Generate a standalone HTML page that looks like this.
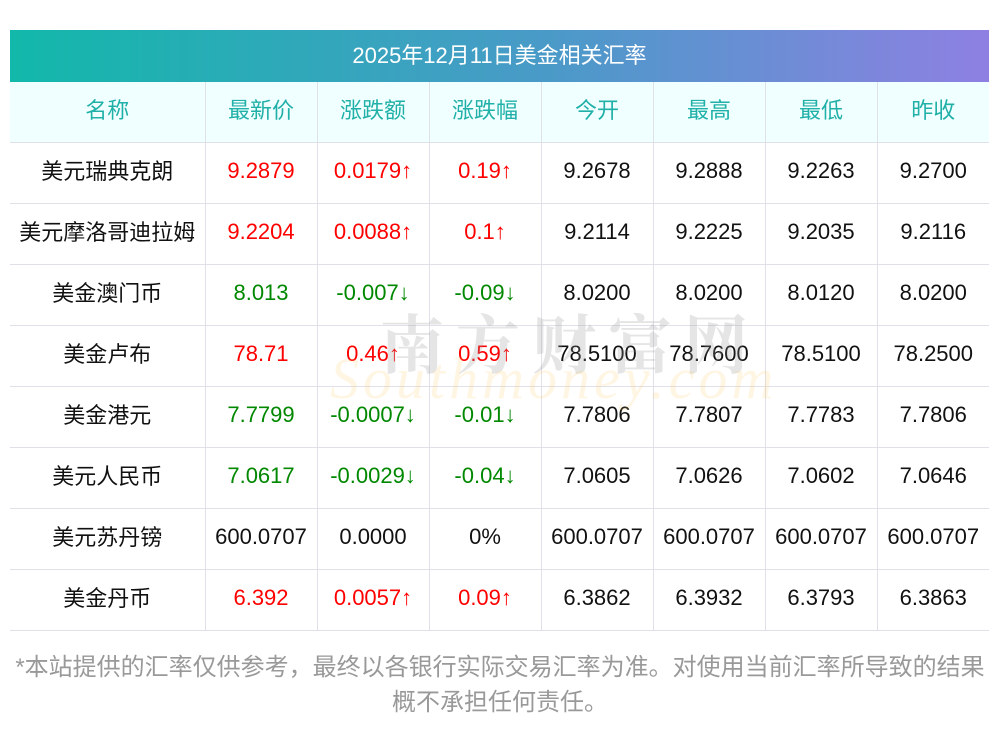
<!DOCTYPE html>
<html><head><meta charset="utf-8"><style>
body{margin:0;width:1000px;height:733px;background:#fff;font-family:"Liberation Sans","Noto Sans CJK SC",sans-serif;position:relative;overflow:hidden}
.title{position:absolute;left:10px;top:30px;width:979px;height:52px;background:linear-gradient(90deg,#12b8aa,#4a9ac8 55%,#8e80e2);color:#fff;font-size:22px;text-align:center;line-height:52px}
table{position:absolute;left:10px;top:82px;width:979px;border-collapse:collapse;table-layout:fixed}
td{height:61px;border-bottom:1px solid #e0e0e8;border-right:1px solid #e0e0e8;text-align:center;font-size:22px;color:#111;padding:0 0 3px 0;box-sizing:border-box;white-space:nowrap}
td:last-child{border-right:none}
td span{position:relative;top:-1px}
tr.h td{background:#f0ffff;color:#20b0a8;font-size:22px;height:60px}
.r{color:#f00}.g{color:#080}
.wm1{position:absolute;left:380px;top:295px;font-size:64px;color:rgba(150,150,150,.25);letter-spacing:12px;font-weight:bold;font-family:"Noto Serif CJK SC",serif}
.wm2{position:absolute;left:330px;top:345px;font-size:58px;color:rgba(255,200,100,.18);font-style:italic;font-family:"Liberation Serif",serif;letter-spacing:4px}
.foot{position:absolute;left:0;top:650px;width:1000px;text-align:center;color:#999;font-size:24px;line-height:35px}
</style></head><body>
<div class="title">2025年12月11日美金相关汇率</div>
<table>
<colgroup><col style="width:195px"><col style="width:112px"><col style="width:112px"><col style="width:112px"><col style="width:112px"><col style="width:112px"><col style="width:112px"><col style="width:112px"></colgroup>
<tr class="h"><td><span>名称</span></td><td><span>最新价</span></td><td><span>涨跌额</span></td><td><span>涨跌幅</span></td><td><span>今开</span></td><td><span>最高</span></td><td><span>最低</span></td><td><span>昨收</span></td></tr>
<tr><td><span>美元瑞典克朗</span></td><td class="r">9.2879</td><td class="r">0.0179↑</td><td class="r">0.19↑</td><td>9.2678</td><td>9.2888</td><td>9.2263</td><td>9.2700</td></tr>
<tr><td><span>美元摩洛哥迪拉姆</span></td><td class="r">9.2204</td><td class="r">0.0088↑</td><td class="r">0.1↑</td><td>9.2114</td><td>9.2225</td><td>9.2035</td><td>9.2116</td></tr>
<tr><td><span>美金澳门币</span></td><td class="g">8.013</td><td class="g">-0.007↓</td><td class="g">-0.09↓</td><td>8.0200</td><td>8.0200</td><td>8.0120</td><td>8.0200</td></tr>
<tr><td><span>美金卢布</span></td><td class="r">78.71</td><td class="r">0.46↑</td><td class="r">0.59↑</td><td>78.5100</td><td>78.7600</td><td>78.5100</td><td>78.2500</td></tr>
<tr><td><span>美金港元</span></td><td class="g">7.7799</td><td class="g">-0.0007↓</td><td class="g">-0.01↓</td><td>7.7806</td><td>7.7807</td><td>7.7783</td><td>7.7806</td></tr>
<tr><td><span>美元人民币</span></td><td class="g">7.0617</td><td class="g">-0.0029↓</td><td class="g">-0.04↓</td><td>7.0605</td><td>7.0626</td><td>7.0602</td><td>7.0646</td></tr>
<tr><td><span>美元苏丹镑</span></td><td>600.0707</td><td>0.0000</td><td>0%</td><td>600.0707</td><td>600.0707</td><td>600.0707</td><td>600.0707</td></tr>
<tr><td><span>美金丹币</span></td><td class="r">6.392</td><td class="r">0.0057↑</td><td class="r">0.09↑</td><td>6.3862</td><td>6.3932</td><td>6.3793</td><td>6.3863</td></tr>
</table>
<div class="wm1">南方财富网</div>
<div class="wm2">Southmoney.com</div>
<div class="foot">*本站提供的汇率仅供参考，最终以各银行实际交易汇率为准。对使用当前汇率所导致的结果<br>概不承担任何责任。</div>
</body></html>
